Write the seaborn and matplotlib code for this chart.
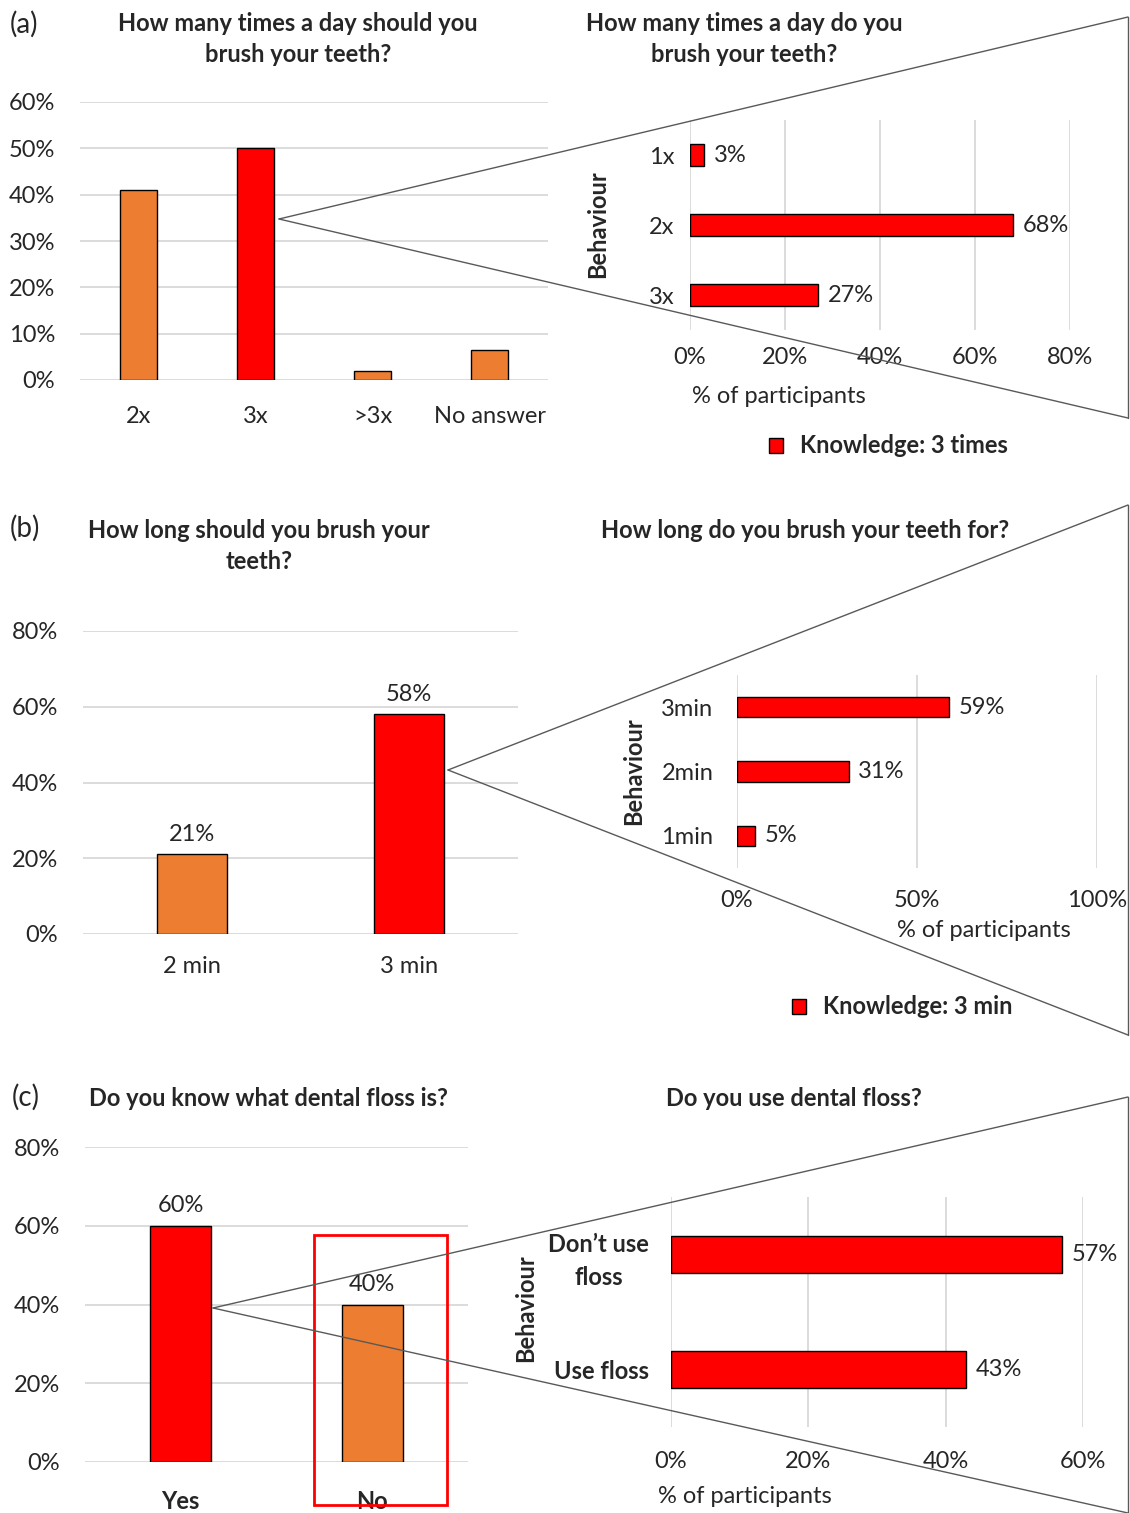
import matplotlib
matplotlib.use("Agg")
import matplotlib.pyplot as plt
from matplotlib.lines import Line2D
from matplotlib.patches import Patch, Rectangle
import seaborn as sns
import pandas as pd

# (a) brushing frequency
freq_cats = ["2x", "3x", ">3x", "No answer"]
freq_vals = [0.41, 0.50, 0.02, 0.065]
freq_beh_cats = ["1x", "2x", "3x"]
freq_beh_vals = [0.03, 0.68, 0.27]
# (b) brushing duration
dur_cats = ["2 min", "3 min"]
dur_vals = [0.21, 0.58]
dur_beh_cats = ["3min", "2min", "1min"]
dur_beh_vals = [0.59, 0.31, 0.05]
# (c) dental floss
floss_cats = ["Yes", "No"]
floss_vals = [0.60, 0.40]
floss_beh_cats = ["Don\u2019t use\nfloss", "Use floss"]
floss_beh_vals = [0.57, 0.43]

ORANGE = "#ED7D31"
RED = "#FF0000"
GRID = "#D9D9D9"
LINE = "#595959"
W, H = 1130, 1513
FS = 17

sns.set_theme(style="white")
plt.rcParams["font.family"] = ["Lato", "DejaVu Sans"]

fig = plt.figure(figsize=(W / 100, H / 100), dpi=100)


def box(x0, y0, x1, y1):
    return [x0 / W, 1 - y1 / H, (x1 - x0) / W, (y1 - y0) / H]


def fx(x):
    return x / W


def fy(y):
    return 1 - y / H


def vbars(rect, cats, vals, colors, ymax, ystep, xpad, ypad, labels=False, bold_x=False):
    ax = fig.add_axes(box(*rect))
    df = pd.DataFrame({"cat": cats, "val": vals})
    sns.barplot(data=df, x="cat", y="val", hue="cat", palette=colors, legend=False,
                saturation=1, width=0.32, edgecolor="black", linewidth=1, ax=ax)
    ax.set_xlim(-0.5, len(cats) - 0.5)
    ax.set_ylim(0, ymax)
    ticks = list(range(0, int(round(ymax * 100)) + 1, ystep))
    ax.set_yticks([t / 100 for t in ticks])
    ax.set_yticklabels([f"{t}%" for t in ticks])
    ax.grid(axis="y", color=GRID, linewidth=1.3)
    ax.set_axisbelow(True)
    sns.despine(ax=ax, left=True, bottom=True)
    ax.tick_params(axis="both", length=0, labelsize=FS)
    ax.tick_params(axis="x", pad=xpad)
    ax.tick_params(axis="y", pad=ypad)
    ax.set_xlabel("")
    ax.set_ylabel("")
    if bold_x:
        for t in ax.get_xticklabels():
            t.set_fontweight("bold")
    if labels:
        for c in ax.containers:
            ax.bar_label(c, labels=[f"{v:.0%}" for v in c.datavalues], padding=7, fontsize=FS)
    return ax


def hbars(rect, cats, vals, xmax, xstep, xpad, ypad, xlab_pos, ylab_pos, bold_y=False):
    ax = fig.add_axes(box(*rect))
    df = pd.DataFrame({"cat": cats, "val": vals})
    sns.barplot(data=df, y="cat", x="val", color=RED, saturation=1, width=0.32,
                edgecolor="black", linewidth=1, ax=ax)
    ax.set_ylim(len(cats) - 0.5, -0.5)
    ax.set_xlim(0, xmax)
    ticks = list(range(0, int(round(xmax * 100)) + 1, xstep))
    ax.set_xticks([t / 100 for t in ticks])
    ax.set_xticklabels([f"{t}%" for t in ticks])
    ax.grid(axis="x", color=GRID, linewidth=1.3)
    ax.set_axisbelow(True)
    sns.despine(ax=ax, left=True, bottom=True)
    ax.tick_params(axis="both", length=0, labelsize=FS)
    ax.tick_params(axis="x", pad=xpad)
    ax.tick_params(axis="y", pad=ypad)
    for t in ax.get_yticklabels():
        t.set_multialignment("center")
        t.set_linespacing(1.5)
        if bold_y:
            t.set_fontweight("bold")
    for c in ax.containers:
        ax.bar_label(c, labels=[f"{v:.0%}" for v in c.datavalues], padding=7, fontsize=FS)
    ax.set_xlabel("% of participants", fontsize=FS, va="center")
    ax.xaxis.set_label_coords(*xlab_pos)
    ax.set_ylabel("Behaviour", fontsize=FS, fontweight="bold", va="center")
    ax.yaxis.set_label_coords(*ylab_pos)
    return ax


def zoom_lines(apex, top, bottom):
    for p in (top, bottom):
        fig.add_artist(Line2D([fx(apex[0]), fx(p[0])], [fy(apex[1]), fy(p[1])],
                              color=LINE, linewidth=1, transform=fig.transFigure))
    fig.add_artist(Line2D([fx(top[0]), fx(bottom[0])], [fy(top[1]), fy(bottom[1])],
                          color=LINE, linewidth=1, transform=fig.transFigure))


def legend(x, y, text):
    fig.legend(handles=[Patch(facecolor=RED, edgecolor="black")], labels=[text],
               loc="center left", bbox_to_anchor=(fx(x), fy(y)), frameon=False,
               borderaxespad=0, borderpad=0,
               handlelength=0.6, handleheight=0.6, handletextpad=0.7,
               prop={"size": FS, "weight": "bold"})


# ---------- (a) ----------
fig.text(fx(10), fy(24), "(a)", fontsize=FS + 3, va="center")
fig.text(fx(298), fy(39), "How many times a day should you\nbrush your teeth?",
         fontsize=FS, fontweight="bold", ha="center", va="center", linespacing=1.4)
fig.text(fx(744), fy(39), "How many times a day do you\nbrush your teeth?",
         fontsize=FS, fontweight="bold", ha="center", va="center", linespacing=1.4)
vbars((80, 102, 548, 380), freq_cats, freq_vals, [ORANGE, RED, ORANGE, ORANGE],
      0.6, 10, xpad=19, ypad=18)
hbars((690, 120, 1070, 330), freq_beh_cats, freq_beh_vals, 0.8, 20, xpad=12, ypad=11,
      xlab_pos=(0.234, -0.319), ylab_pos=(-0.242, 0.505))
zoom_lines((279, 219), (1128, 17), (1128, 418))
legend(769, 446, "Knowledge: 3 times")

# ---------- (b) ----------
fig.text(fx(10), fy(528), "(b)", fontsize=FS + 3, va="center")
fig.text(fx(259), fy(546), "How long should you brush your\nteeth?",
         fontsize=FS, fontweight="bold", ha="center", va="center", linespacing=1.4)
fig.text(fx(805), fy(530), "How long do you brush your teeth for?",
         fontsize=FS, fontweight="bold", ha="center", va="center")
vbars((83, 631, 518, 934), dur_cats, dur_vals, [ORANGE, RED], 0.8, 20,
      xpad=16, ypad=18, labels=True)
hbars((737, 675, 1097, 868), dur_beh_cats, dur_beh_vals, 1.0, 50, xpad=16, ypad=17,
      xlab_pos=(0.686, -0.326), ylab_pos=(-0.286, 0.503))
zoom_lines((448, 770), (1128, 505), (1128, 1035))
legend(792, 1007, "Knowledge: 3 min")

# ---------- (c) ----------
fig.text(fx(12), fy(1097), "(c)", fontsize=FS + 3, va="center")
fig.text(fx(268), fy(1098), "Do you know what dental floss is?",
         fontsize=FS, fontweight="bold", ha="center", va="center")
fig.text(fx(794), fy(1099), "Do you use dental floss?",
         fontsize=FS, fontweight="bold", ha="center", va="center")
vbars((85, 1147, 468, 1462), floss_cats, floss_vals, [RED, ORANGE], 0.8, 20,
      xpad=20, ypad=18, labels=True, bold_x=True)
hbars((671, 1197, 1083, 1427), floss_beh_cats, floss_beh_vals, 0.6, 20, xpad=17, ypad=16,
      xlab_pos=(0.18, -0.304), ylab_pos=(-0.354, 0.517), bold_y=True)
zoom_lines((213, 1308), (1128, 1097), (1128, 1513))
fig.add_artist(Rectangle((fx(314), fy(1505)), (447 - 314) / W, (1505 - 1235) / H,
                         fill=False, edgecolor=RED, linewidth=2, transform=fig.transFigure))

fig.savefig("out.png", dpi=100)
